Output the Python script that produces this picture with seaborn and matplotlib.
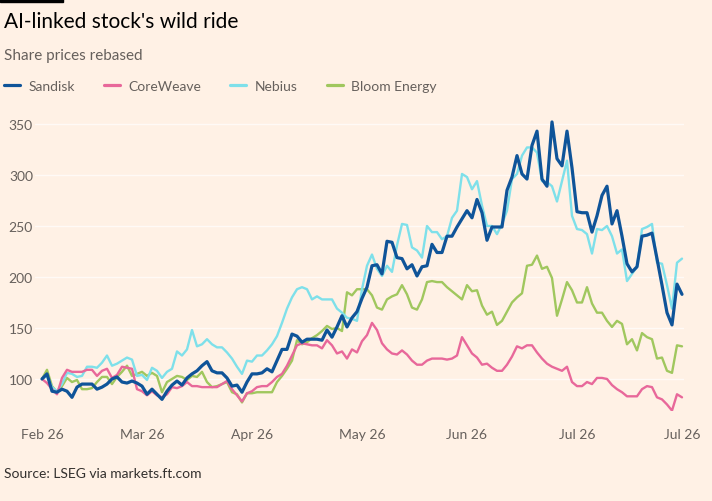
import numpy as np
import pandas as pd
import matplotlib.pyplot as plt
import seaborn as sns
from matplotlib.lines import Line2D
from matplotlib.patches import Rectangle

# 交易日，2026年2月2日起
dates = pd.bdate_range("2026-02-02", periods=129)

sandisk = [
    100, 105, 88, 87, 90, 88, 82, 92, 95, 95,
    95, 90, 92, 95, 100, 102, 97, 96, 98, 96,
    93, 85, 90, 85, 80, 88, 94, 98, 94, 101,
    105, 108, 113, 117, 108, 106, 106, 101, 93, 94,
    87, 97, 105, 105, 106, 110, 107, 118, 129, 129,
    144, 142, 136, 139, 139, 139, 138, 148, 141, 151,
    162, 151, 160, 166, 179, 190, 211, 212, 203, 235,
    234, 219, 218, 208, 212, 201, 210, 211, 232, 224,
    224, 240, 240, 249, 257, 265, 258, 276, 263, 236,
    249, 249, 249, 285, 298, 319, 301, 296, 329, 343,
    296, 289, 352, 316, 309, 343, 307, 264, 263, 263,
    244, 260, 280, 289, 252, 265, 240, 213, 205, 210,
    240, 241, 243, 218, 192, 165, 153, 193, 183,
]
coreweave = [
    100, 96, 90, 85, 101, 109, 107, 107, 107, 109,
    109, 103, 108, 110, 101, 104, 112, 111, 110, 90,
    88, 84, 88, 84, 82, 85, 92, 91, 93, 97,
    93, 93, 92, 92, 92, 92, 95, 98, 90, 84,
    78, 86, 88, 92, 93, 93, 97, 102, 105, 113,
    123, 133, 135, 134, 133, 133, 130, 138, 133, 125,
    127, 120, 129, 126, 137, 143, 155, 148, 135, 129,
    125, 124, 128, 124, 118, 114, 114, 118, 120, 120,
    120, 119, 120, 123, 141, 133, 125, 121, 114, 115,
    111, 108, 108, 114, 122, 132, 130, 133, 133, 126,
    120, 115, 112, 110, 108, 112, 97, 93, 93, 97,
    95, 101, 101, 100, 94, 90, 87, 83, 83, 83,
    90, 93, 92, 82, 80, 75, 69, 85, 82,
]
nebius = [
    100, 103, 92, 88, 95, 106, 105, 102, 103, 112,
    112, 111, 116, 123, 113, 115, 118, 121, 119, 103,
    104, 99, 111, 108, 101, 107, 110, 127, 123, 129,
    148, 132, 134, 139, 134, 131, 131, 126, 120, 112,
    105, 118, 117, 123, 123, 128, 134, 142, 155, 169,
    180, 188, 190, 188, 178, 181, 178, 178, 178, 169,
    165, 160, 159, 157, 188, 211, 222, 208, 201, 211,
    205, 231, 252, 251, 229, 226, 219, 250, 244, 244,
    237, 240, 258, 265, 301, 298, 286, 294, 270, 250,
    250, 242, 252, 265, 296, 301, 319, 327, 327, 322,
    294, 293, 289, 274, 294, 314, 260, 247, 246, 242,
    223, 247, 246, 250, 240, 223, 227, 196, 203, 210,
    247, 249, 252, 214, 213, 192, 169, 214, 218,
]
bloom = [
    100, 109, 93, 87, 93, 101, 97, 99, 90, 90,
    91, 97, 102, 102, 95, 102, 107, 113, 103, 105,
    107, 103, 106, 103, 87, 97, 100, 103, 102, 99,
    103, 102, 107, 97, 92, 93, 95, 97, 87, 85,
    77, 86, 86, 87, 87, 87, 87, 97, 103, 110,
    118, 138, 134, 136, 140, 143, 147, 152, 149, 150,
    147, 185, 182, 188, 188, 188, 182, 170, 168, 178,
    181, 183, 192, 183, 170, 168, 178, 195, 196, 195,
    195, 190, 186, 182, 178, 192, 186, 187, 172, 163,
    166, 153, 157, 166, 175, 180, 184, 211, 212, 221,
    208, 210, 199, 162, 178, 195, 187, 175, 175, 190,
    174, 165, 165, 157, 151, 157, 154, 134, 139, 128,
    145, 141, 139, 120, 121, 108, 106, 133, 132,
]

names = ["Sandisk", "CoreWeave", "Nebius", "Bloom Energy"]
colours = {
    "Sandisk": "#0f5499",
    "CoreWeave": "#e8689a",
    "Nebius": "#7ee0ea",
    "Bloom Energy": "#a0c75e",
}
widths = {"Sandisk": 2.3, "CoreWeave": 1.7, "Nebius": 1.7, "Bloom Energy": 1.7}

df = pd.DataFrame({
    "pos": np.arange(len(dates)),
    "Sandisk": sandisk,
    "CoreWeave": coreweave,
    "Nebius": nebius,
    "Bloom Energy": bloom,
})

bg = "#fff1e5"
grey = "#66605c"

sns.set_theme(style="white")
plt.rcParams["font.family"] = ["Lato", "DejaVu Sans"]

fig = plt.figure(figsize=(7.12, 5.02), dpi=100, facecolor=bg)
ax = fig.add_axes([35 / 712, 90 / 502, 649 / 712, 302 / 502])
ax.set_facecolor(bg)

# 画线顺序：绿、青、粉、蓝在最上
for name in ["Bloom Energy", "Nebius", "CoreWeave", "Sandisk"]:
    sns.lineplot(data=df, x="pos", y=name, color=colours[name],
                 linewidth=widths[name], ax=ax)

ax.set_xlim(-1.4, 128.4)
ax.set_ylim(68.6, 364.7)

# 每月第一个交易日 + 最后一天
month_first = df.groupby(dates.to_period("M"))["pos"].min().tolist()
ticks = month_first + [len(dates) - 1]
ax.set_xticks(ticks)
ax.set_xticklabels([dates[i].strftime("%b %y") for i in ticks])
ax.set_xticks(df["pos"], minor=True)

ax.set_yticks([100, 150, 200, 250, 300, 350])
ax.grid(axis="y", color="#fffaf6", linewidth=1)
ax.grid(axis="x", visible=False)

ax.tick_params(axis="y", length=0, pad=1.5, labelsize=10, labelcolor=grey)
ax.tick_params(axis="x", which="major", length=0, pad=12, labelsize=10,
               labelcolor=grey)
ax.tick_params(axis="x", which="minor", length=5, width=1, color="#fffaf6",
               direction="out")
ax.set_xlabel(None)
ax.set_ylabel(None)
for s in ax.spines.values():
    s.set_visible(False)

handles = [Line2D([], [], color=colours[n], linewidth=2.3) for n in names]
fig.legend(handles, names, loc="center left",
           bbox_to_anchor=(4 / 712, 1 - 87 / 502), ncol=4, frameon=False,
           handlelength=1.15, handletextpad=0.6, columnspacing=2.1,
           borderpad=0, borderaxespad=0, fontsize=10, labelcolor=grey)

fig.add_artist(Rectangle((0, 1 - 3 / 502), 63 / 712, 3 / 502,
                         transform=fig.transFigure, color="black"))
fig.text(4 / 712, 1 - 22 / 502, "AI-linked stock's wild ride", fontsize=15,
         va="center", ha="left", color="#000000")
fig.text(4 / 712, 1 - 56 / 502, "Share prices rebased", fontsize=11,
         va="center", ha="left", color=grey)
fig.text(4 / 712, 1 - 474 / 502, "Source: LSEG via markets.ft.com",
         fontsize=10, va="center", ha="left", color="#33302e")

fig.savefig("out.png", dpi=100, facecolor=bg)
